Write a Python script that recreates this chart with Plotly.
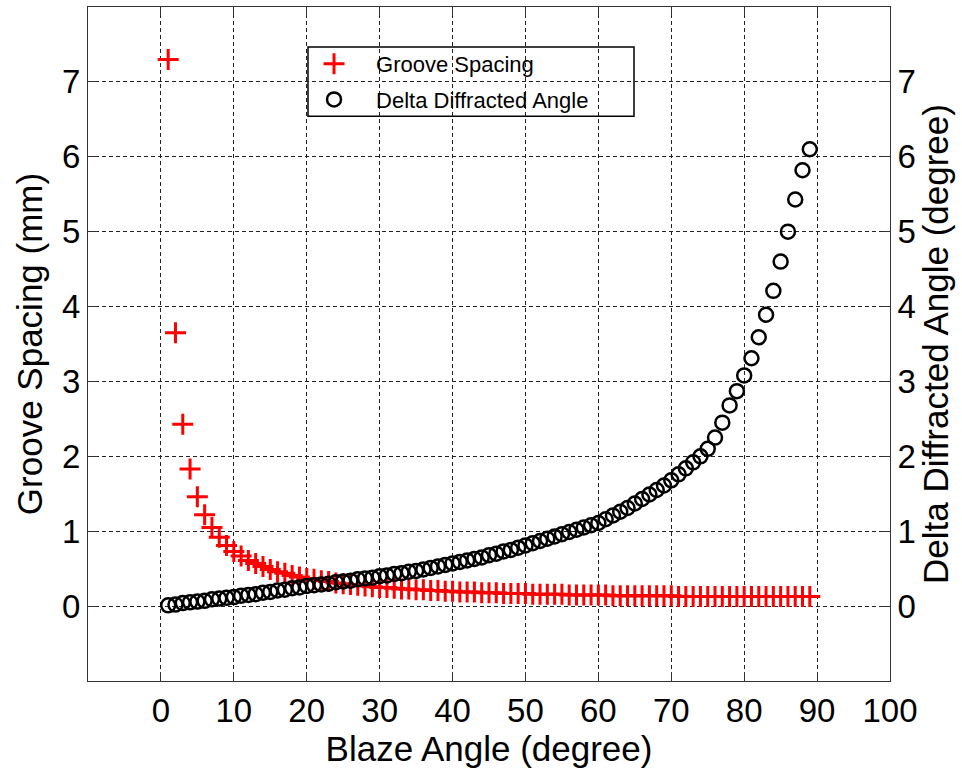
import plotly.graph_objects as go

blaze_angle = list(range(1, 90))

groove_spacing = [
    7.30, 3.65, 2.43, 1.83, 1.46, 1.22, 1.05, 0.92, 0.81, 0.73,
    0.67, 0.61, 0.57, 0.53, 0.49, 0.46, 0.44, 0.41, 0.39, 0.37,
    0.36, 0.34, 0.33, 0.31, 0.30, 0.29, 0.28, 0.27, 0.26, 0.25,
    0.25, 0.24, 0.23, 0.23, 0.22, 0.22, 0.21, 0.21, 0.20, 0.20,
    0.19, 0.19, 0.19, 0.18, 0.18, 0.18, 0.17, 0.17, 0.17, 0.17,
    0.16, 0.16, 0.16, 0.16, 0.16, 0.15, 0.15, 0.15, 0.15, 0.15,
    0.15, 0.14, 0.14, 0.14, 0.14, 0.14, 0.14, 0.14, 0.14, 0.14,
    0.13, 0.13, 0.13, 0.13, 0.13, 0.13, 0.13, 0.13, 0.13, 0.13,
    0.13, 0.13, 0.13, 0.13, 0.13, 0.13, 0.13, 0.13, 0.13,
]

delta_angle = [
    0.01, 0.02, 0.04, 0.05, 0.06, 0.07, 0.09, 0.10, 0.11, 0.12,
    0.14, 0.15, 0.16, 0.18, 0.19, 0.21, 0.22, 0.24, 0.25, 0.27,
    0.28, 0.29, 0.30, 0.32, 0.33, 0.34, 0.36, 0.37, 0.38, 0.40,
    0.41, 0.43, 0.44, 0.46, 0.47, 0.49, 0.51, 0.53, 0.55, 0.57,
    0.59, 0.61, 0.63, 0.65, 0.68, 0.70, 0.73, 0.75, 0.78, 0.81,
    0.84, 0.87, 0.90, 0.93, 0.96, 0.99, 1.02, 1.05, 1.08, 1.11,
    1.16, 1.21, 1.26, 1.31, 1.37, 1.43, 1.49, 1.55, 1.61, 1.68,
    1.76, 1.84, 1.92, 2.00, 2.10, 2.25, 2.45, 2.68, 2.87, 3.08,
    3.31, 3.59, 3.89, 4.21, 4.60, 5.00, 5.43, 5.82, 6.10,
]

x_ticks = [0, 10, 20, 30, 40, 50, 60, 70, 80, 90, 100]
y_ticks = [0, 1, 2, 3, 4, 5, 6, 7]

FONT = "Liberation Sans, Arial, sans-serif"
TICK_SIZE = 33
TITLE_SIZE = 35

fig = go.Figure()
fig.add_trace(go.Scatter(
    x=blaze_angle, y=groove_spacing, mode="markers", name="Groove Spacing",
    legendgroup="a",
    marker=dict(symbol="cross-thin-open", size=15, color="#ff0000",
                line=dict(color="#ff0000", width=3)),
    yaxis="y",
))
fig.add_trace(go.Scatter(
    x=blaze_angle, y=delta_angle, mode="markers", name="Delta Diffracted Angle",
    legendgroup="b",
    marker=dict(symbol="circle-open", size=14, color="#000000",
                line=dict(color="#000000", width=2.5)),
    yaxis="y2",
))

grid = dict(showgrid=True, gridcolor="#222222", gridwidth=1, griddash="4px,3px")
axis_common = dict(
    showline=True, linecolor="#333333", linewidth=1,
    ticks="inside", ticklen=9, tickcolor="#333333", tickwidth=1,
    tickfont=dict(family=FONT, size=TICK_SIZE, color="#000000"),
    zeroline=False,
)

fig.update_layout(
    width=962, height=769,
    margin=dict(l=88, r=72, t=7, b=88),
    paper_bgcolor="white", plot_bgcolor="white",
    font=dict(family=FONT, color="#000000"),
    xaxis=dict(range=[-10, 100], tickvals=x_ticks, mirror="ticks",
               title=dict(text="Blaze Angle (degree)", font=dict(family=FONT, size=TITLE_SIZE), standoff=4),
               **grid, **axis_common),
    yaxis=dict(range=[-1, 8], tickvals=y_ticks, mirror="ticks",
               title=dict(text="Groove Spacing (mm)", font=dict(family=FONT, size=TITLE_SIZE), standoff=8),
               **grid, **axis_common),
    yaxis2=dict(range=[-1, 8], tickvals=y_ticks, overlaying="y", side="right",
                showgrid=False,
                title=dict(text="Delta Diffracted Angle (degree)", font=dict(family=FONT, size=TITLE_SIZE), standoff=8),
                **axis_common),
    legend=dict(x=0.2544, y=0.9466, xanchor="left", yanchor="top",
                bgcolor="rgba(0,0,0,0)", borderwidth=0,
                font=dict(family=FONT, size=22, color="#000000"),
                traceorder="grouped", tracegroupgap=4, itemwidth=74),
    shapes=[dict(type="rect", xref="paper", yref="paper",
                 x0=0.2743, x1=0.6808, y0=0.838, y1=0.9407,
                 line=dict(color="#000000", width=1.5), fillcolor="white", layer="below")],
    showlegend=True,
)

fig.write_html("out.html")
